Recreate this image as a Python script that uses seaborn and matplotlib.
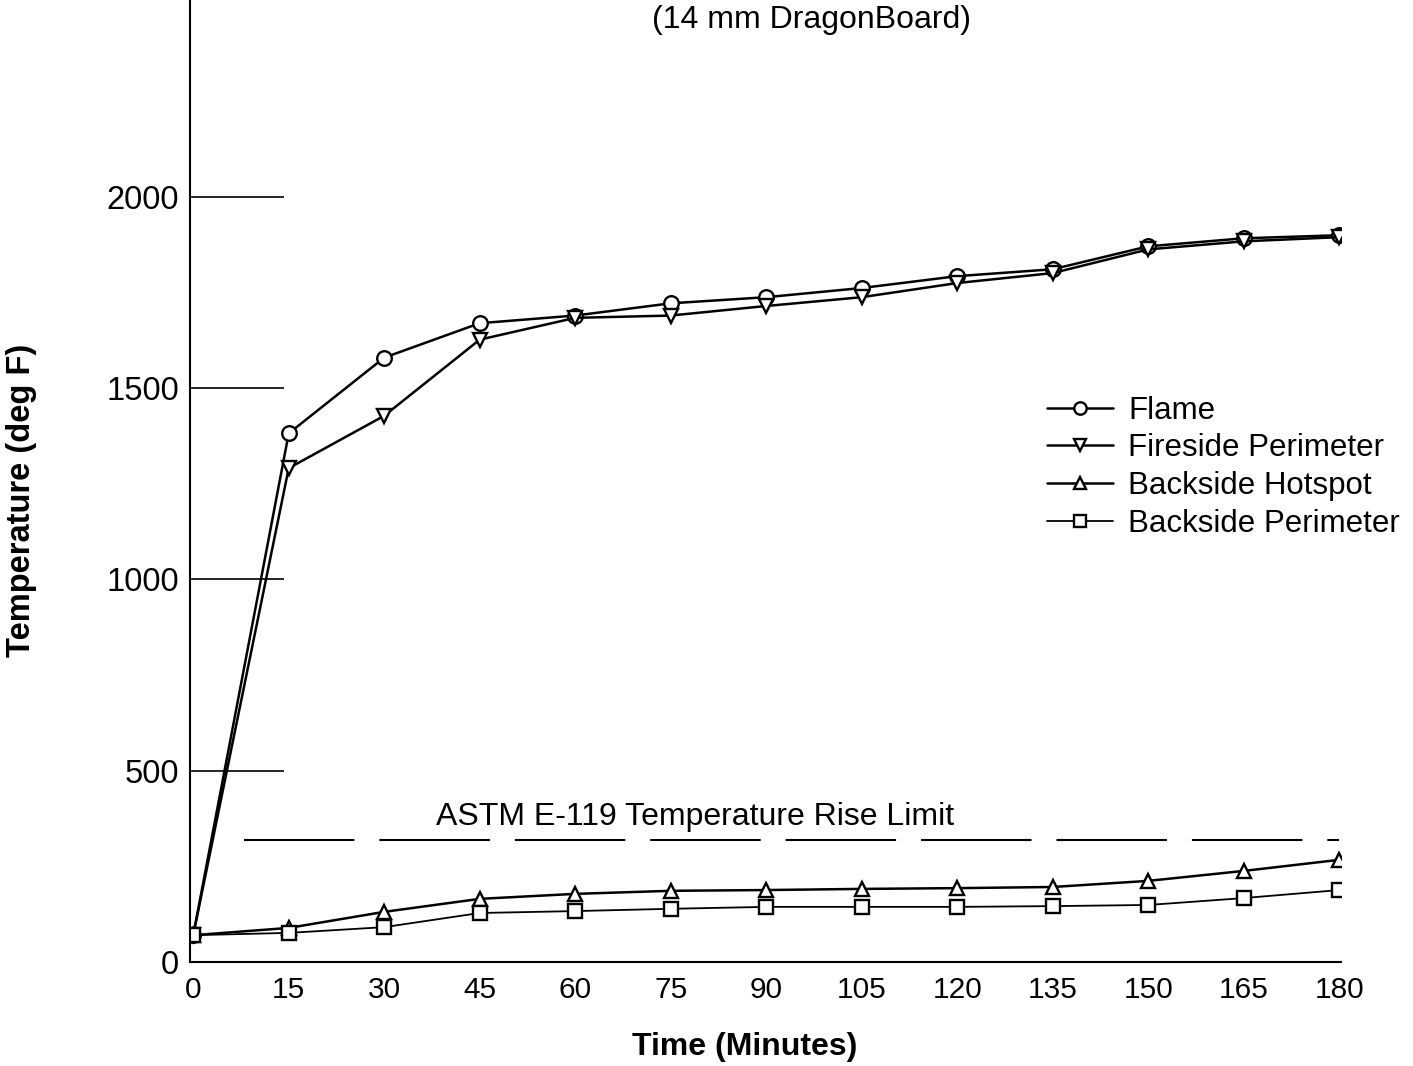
import matplotlib
matplotlib.use("Agg")
import matplotlib.pyplot as plt
import seaborn as sns
import pandas as pd

# time in minutes
minutes = [0, 15, 30, 45, 60, 75, 90, 105, 120, 135, 150, 165, 180]

# temperatures (deg F)
flame = [70, 1382, 1580, 1670, 1690, 1722, 1738, 1762, 1793, 1811, 1871, 1892, 1900]
fireside_perimeter = [70, 1291, 1428, 1627, 1684, 1690, 1715, 1738, 1775, 1801, 1863, 1884, 1895]
backside_hotspot = [70, 89, 131, 165, 178, 186, 188, 191, 193, 196, 212, 238, 267]
backside_perimeter = [70, 76, 91, 128, 133, 139, 144, 144, 144, 146, 149, 167, 188]

series_names = ["Flame", "Fireside Perimeter", "Backside Hotspot", "Backside Perimeter"]
series_values = [flame, fireside_perimeter, backside_hotspot, backside_perimeter]
series_markers = ["o", "v", "^", "s"]
series_widths = [1.8, 1.8, 1.8, 1.3]

limit_x = [8, 180]
limit_y = [320, 320]
limit_label = "ASTM E-119 Temperature Rise Limit"

xticks = list(range(0, 181, 15))
yticks = [0, 500, 1000, 1500, 2000]

sns.set_style("white")
plt.rcParams["font.family"] = ["Liberation Sans", "DejaVu Sans"]
plt.rcParams["text.color"] = "black"
plt.rcParams["xtick.color"] = "black"
plt.rcParams["ytick.color"] = "black"

fig = plt.figure(figsize=(14.13, 10.66), dpi=100)
ax = fig.add_axes([0.1345, 0.0976, 0.8146, 0.9024])

df = pd.DataFrame({"minutes": minutes})
for name, vals, mk, lw in zip(series_names, series_values, series_markers, series_widths):
    df[name] = vals
    sns.lineplot(data=df, x="minutes", y=name, ax=ax, label=name, color="black",
                 marker=mk, markersize=10.5, markerfacecolor="white",
                 markeredgecolor="black", markeredgewidth=1.7, linewidth=lw)

# E-119 limit line
ax.plot(limit_x, limit_y, color="black", linewidth=1.5, dashes=(53, 12))
ax.text(78.8, 378, limit_label, ha="center", va="center", fontsize=23)

ax.set_xlim(-0.5, 180.3)
ax.set_ylim(0, 2515)
ax.set_xticks(xticks)
ax.set_xticklabels([str(t) for t in xticks])
ax.set_xticks(list(range(30, 181, 30)), minor=True)
ax.set_yticks(yticks)
ax.set_yticklabels([str(v) for v in yticks])
ax.tick_params(axis="x", which="major", length=0, labelsize=21.5, pad=10)
ax.tick_params(axis="x", which="minor", direction="in", length=16, width=1.5, color="black")
ax.tick_params(axis="y", direction="in", length=68, width=1.2, color="black",
               labelsize=23.5, pad=8, left=True)
ax.set_xlabel("")
ax.set_ylabel("")

sns.despine(ax=ax)
for s in ["left", "bottom"]:
    ax.spines[s].set_color("black")
    ax.spines[s].set_linewidth(1.5)

ax.legend(loc="upper left", bbox_to_anchor=(0.72, 0.618), frameon=False,
          fontsize=22.5, handlelength=2.1, handletextpad=0.5, labelspacing=0.25,
          markerscale=0.85)

fig.text(812 / 1413, 1 - 20 / 1066, "(14 mm DragonBoard)", ha="center", va="center", fontsize=23)
fig.text(22 / 1413, 1 - 500 / 1066, "Temperature (deg F)", rotation=90, ha="center",
         va="center", fontsize=23.5, fontweight="bold")
fig.text(745 / 1413, 1 - 1047 / 1066, "Time (Minutes)", ha="center", va="center",
         fontsize=23, fontweight="bold")

fig.savefig("out.png", dpi=100)
